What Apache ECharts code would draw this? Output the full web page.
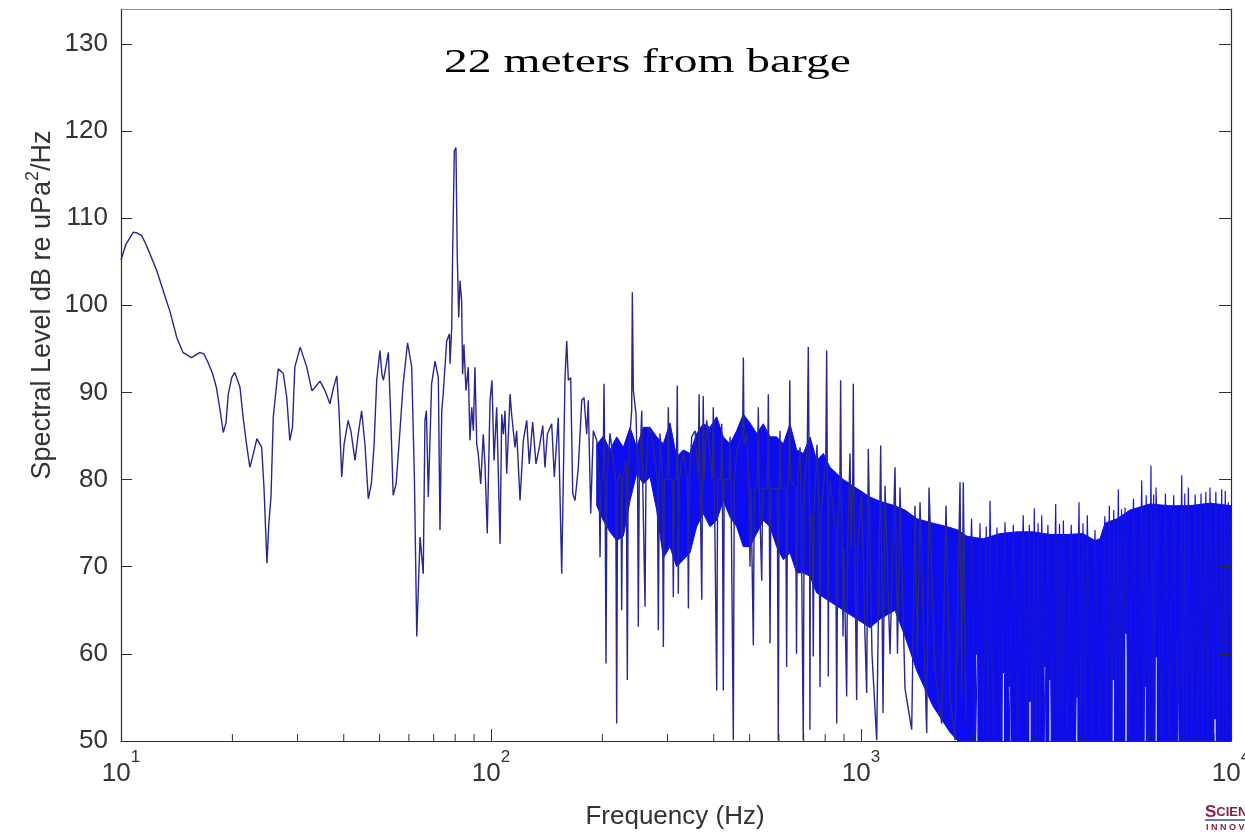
<!DOCTYPE html>
<html>
<head>
<meta charset="utf-8">
<title>22 meters from barge</title>
<script src="https://cdn.jsdelivr.net/npm/echarts@6.0.0/dist/echarts.min.js"></script>
<style>
    html, body { margin: 0; padding: 0; background: #fff; }
    #chart { width: 1245px; height: 832px; }
</style>
</head>
<body>
<div id="chart"></div>
<script>
// spectral level in dB re uPa^2/Hz, frequency in Hz

// 10 Hz .. 193 Hz: smooth start, then the 80 Hz line and its neighbours
let lowFreq = [
    10.0, 10.31, 10.8, 11.05, 11.37, 11.68, 11.97, 12.49, 13.0, 13.56,
    14.15, 14.7, 15.5, 16.35, 16.76, 17.2, 17.67, 18.1, 18.52, 18.9,
    19.22, 19.5, 19.92, 20.3, 20.97, 21.4, 21.9, 22.3, 22.8, 23.3,
    24.0, 24.35, 24.8, 25.1, 25.43, 25.8, 26.6, 27.45, 28.04, 28.6,
    29.07, 29.5, 30.5, 31.77, 32.8, 33.45, 34.5, 35.6, 36.7, 37.5,
    38.3, 38.83, 39.5, 40.07, 41.1, 41.84, 42.9, 43.7, 44.7, 45.65,
    46.6, 47.5, 48.3, 49.1, 50.1, 50.75, 51.2, 52.0, 52.8, 53.5,
    54.4, 55.4, 56.4, 57.9, 59.5, 61.05, 62.1, 63.0, 64.3, 65.6,
    66.3, 66.9, 67.7, 69.1, 70.6, 72.05, 72.8, 73.6, 74.3, 75.9,
    77.2, 77.5, 78.3, 78.8, 79.6, 80.4, 81.05, 81.8, 82.45, 83.3,
    83.8, 84.5, 85.6, 86.8, 87.7, 88.7, 89.6, 90.5, 91.5, 92.4,
    93.8, 95.3, 96.3, 97.7, 99.4, 100.6, 101.9, 103.6, 105.8, 106.9,
    108.0, 109.1, 110.3, 112.6, 113.7, 116.1, 117.3, 119.8, 122.3, 124.9,
    126.9, 129.6, 132.3, 135.1, 138.0, 139.9, 142.0, 145.9, 148.3, 152.0,
    155.3, 158.5, 160.2, 161.8, 164.2, 166.3, 168.7, 172.2, 175.9, 178.4,
    181.4, 183.2, 186.0, 189.0, 193.1
];
let lowLevel = [
    105.2, 107.0, 108.4, 108.3, 108.0, 107.0, 105.9, 104.0, 101.7, 99.3,
    96.3, 94.6, 94.0, 94.6, 94.4, 93.4, 92.2, 90.6, 88.0, 85.4,
    86.5, 89.8, 91.7, 92.3, 90.6, 87.0, 83.7, 81.4, 83.0, 84.7,
    83.7, 79.0, 70.4, 75.0, 78.0, 87.2, 92.7, 92.2, 89.5, 84.5,
    86.0, 92.9, 95.2, 92.9, 90.2, 90.6, 91.3, 90.2, 88.7, 90.5,
    91.9, 88.0, 80.3, 84.0, 86.8, 85.5, 82.2, 85.0, 87.9, 84.0,
    77.8, 79.5, 84.0, 91.4, 94.8, 92.0, 91.4, 93.0, 94.6, 88.0,
    78.2, 79.5, 84.0, 91.0, 95.7, 92.9, 80.0, 62.0, 73.4, 69.2,
    86.8, 87.9, 78.0, 91.0, 93.6, 91.7, 74.2, 87.9, 89.9, 95.9,
    96.7, 93.3, 97.4, 106.6, 117.7, 118.1, 105.9, 98.6, 102.8, 100.5,
    92.1, 95.5, 90.2, 92.9, 84.5, 88.3, 85.6, 92.9, 84.1, 82.9,
    79.5, 85.2, 81.8, 73.8, 89.1, 91.4, 82.2, 88.3, 72.6, 87.5,
    85.2, 87.9, 80.7, 89.8, 87.5, 83.7, 85.6, 77.6, 84.5, 86.8,
    81.8, 86.6, 81.8, 83.7, 86.2, 81.4, 85.2, 86.4, 80.3, 87.1,
    69.2, 91.7, 95.9, 91.4, 91.7, 78.4, 77.6, 81.4, 89.1, 89.4,
    85.2, 89.1, 76.1, 85.6, 84.5
];

// 196 Hz .. 1 kHz: spikes, each with the level where it leaves the dense core
let midFreq = [
    196.0, 197.1, 198.3, 200.8, 202.0, 203.3, 203.8, 204.6, 205.8, 209.7,
    214.0, 217.3, 218.6, 219.9, 223.2, 224.5, 225.5, 226.8, 232.0, 233.6,
    234.8, 237.6, 240.0, 241.0, 242.5, 246.6, 249.0, 250.1, 251.6, 254.4,
    255.5, 257.0, 259.6, 260.8, 262.3, 263.6, 266.2, 271.9, 281.6, 283.3,
    285.0, 286.2, 290.5, 292.3, 294.0, 299.7, 301.5, 303.3, 309.2, 311.0,
    312.8, 317.0, 318.8, 319.8, 320.8, 322.7, 331.0, 339.6, 341.6, 343.6,
    348.8, 356.1, 363.0, 365.1, 367.2, 369.5, 371.2, 372.9, 374.6, 376.8,
    382.8, 396.5, 398.9, 401.3, 405.0, 407.4, 409.8, 417.8, 420.3, 422.0,
    424.5, 427.0, 440.0, 442.6, 445.2, 449.1, 451.8, 454.5, 461.4, 478.5,
    480.9, 483.0, 491.2, 498.2, 501.2, 504.2, 508.7, 511.7, 514.8, 524.6,
    527.8, 531.0, 535.9, 539.1, 542.3, 558.4, 561.8, 564.7, 567.7, 571.1,
    594.0, 597.6, 600.8, 604.0, 607.6, 625.7, 629.5, 633.3, 639.0, 642.2,
    645.0, 665.5, 669.5, 673.5, 680.0, 684.1, 688.2, 694.0, 698.2, 702.4,
    716.0, 720.3, 724.0, 725.9, 727.8, 729.7, 739.0, 743.1, 747.0, 760.3,
    770.4, 775.0, 779.6, 803.0, 807.6, 811.0, 813.5, 816.0, 818.5, 824.6,
    854.5, 859.7, 864.9, 877.0, 881.0, 885.0, 889.5, 894.0, 898.5, 909.2,
    914.7, 920.2, 928.3, 933.9, 939.5, 950.0, 953.3, 957.0, 963.6, 969.4,
    973.4, 979.2
];
let midLevel = [
    80, 71.1, 80, 80, 91.0, 80, 80, 58.9, 80, 85.3,
    82.2, 80, 52.0, 80, 80.7, 80, 65.0, 80, 82.2, 57.0,
    80, 85.3, 88.0, 101.5, 90.2, 87.5, 80, 63.1, 80, 80,
    87.9, 80, 80, 65.4, 80, 82.2, 86.0, 85.2, 80, 62.7,
    80, 85.3, 80, 60.8, 80, 80, 88.3, 80, 80, 66.5,
    80, 80, 90.8, 80, 66.9, 80, 83.3, 80, 65.2, 80,
    84.9, 85.6, 80, 89.8, 80, 80, 66.2, 80, 89.6, 80,
    86.8, 80, 88.3, 80, 80, 55.8, 80, 80, 86.4, 80,
    55.8, 80, 80, 84.9, 80, 80, 50.1, 80, 83.3, 85.0,
    94.0, 84.0, 85.3, 79, 70.0, 79, 79, 61.0, 79, 79,
    88.3, 79, 79, 68.4, 79, 79, 89.8, 79, 61.2, 79,
    79, 50.1, 79, 85.6, 79, 79, 58.5, 79, 82.0, 91.4,
    80.0, 79, 60.0, 79, 79, 83.7, 79, 79, 50.1, 79,
    84.0, 95.2, 82.0, 76, 51.3, 76, 76, 59.7, 76, 84.0,
    76, 56.2, 76, 82.0, 94.8, 80.0, 76, 57.4, 76, 80.0,
    74, 52.0, 74, 80.0, 91.4, 78.0, 72, 62.0, 72, 72,
    55.1, 72, 72, 83.0, 72, 80.0, 91.0, 78.0, 72, 60.0,
    54.7, 72
];

// 1 kHz .. 1.9 kHz
let upperFreq = [
    1004.4, 1025.2, 1036.0, 1046.4, 1070.8, 1102.6, 1130.3, 1146.8, 1161.1, 1197.8,
    1235.6, 1255.0, 1274.7, 1315.0, 1370.9, 1399.3, 1420.0, 1443.7, 1505.2, 1526.9,
    1584.9, 1652.3, 1697.0, 1740.0, 1795.0, 1852.0, 1870.0, 1890.0, 1922.0
];
let upperLevel = [
    78.7, 62.0, 55.5, 83.5, 60.0, 50.1, 83.9, 53.2, 79.3, 60.0,
    81.4, 60.0, 79.1, 56.0, 51.3, 77.0, 60.0, 77.4, 50.9, 79.1,
    58.0, 52.0, 77.0, 55.0, 50.1, 79.7, 55.0, 79.7, 52.0
];

// spikes standing out of the solid part above ~2 kHz
let hiFreq = [
    1922, 1990, 2040, 2097, 2140, 2180, 2205, 2232, 2280, 2330,
    2390, 2450, 2520, 2580, 2650, 2745, 2800, 2850, 2900, 2940,
    2980, 3010, 3040, 3079, 3140, 3200, 3280, 3359, 3400, 3440,
    3480, 3523, 3600, 3700, 3800, 3884, 3930, 3980, 4030, 4089,
    4200, 4290, 4400, 4560, 4620, 4690, 4750, 4820, 4890, 4960,
    5010, 5060, 5110, 5170, 5300, 5450, 5600, 5737, 5820, 5900,
    5990, 6078, 6130, 6180, 6225, 6271, 6500, 6650, 6800, 7000,
    7180, 7360, 7430, 7500, 7580, 7668, 7830, 8000, 8150, 8297,
    8420, 8550, 8660, 8774, 8930, 9100, 9270, 9437, 9540, 9650,
    9740, 9833, 10000
];
let hiLevel = [
    52, 75.5, 50, 75.0, 50, 74.6, 50, 77.6, 50, 74.5,
    50, 75.1, 50, 74.8, 50, 75.9, 50, 74.8, 50, 76.7,
    50, 75.0, 50, 75.9, 50, 74.8, 50, 77.2, 50, 74.9,
    50, 75.3, 50, 74.8, 50, 77.4, 50, 75.0, 50, 75.9,
    50, 74.2, 50, 75.8, 50, 77.0, 50, 76.5, 50, 78.9,
    50, 76.6, 50, 76.8, 50, 77.8, 50, 79.9, 50, 78.2,
    50, 81.6, 50, 78.3, 50, 79.1, 50, 78.4, 50, 78.2,
    50, 80.5, 50, 78.4, 50, 79.1, 50, 78.3, 50, 78.4,
    50, 78.6, 50, 79.1, 50, 78.6, 50, 78.9, 50, 78.7,
    50, 77.4, 60
];

// dense core of the trace: upper and lower edge of the filled-looking band
let bandFreq = [
    193.1, 201.2, 209.7, 218.6, 227.9, 237.6, 247.6, 258.1, 269.0, 280.4,
    292.3, 304.6, 317.5, 331.0, 345.0, 359.6, 374.8, 390.7, 407.2, 424.5,
    442.5, 461.2, 480.8, 501.2, 522.4, 544.5, 567.6, 591.6, 616.7, 642.8,
    670.1, 698.5, 728.1, 758.9, 791.1, 824.6, 859.6, 896.0, 933.9, 973.4,
    1014.6, 1057.6, 1125.6, 1235.6, 1315, 1417, 1565, 1740, 1829, 1934,
    2137, 2376, 2640, 2917, 3242, 3604, 3981, 4290, 4426, 4565,
    4920, 5333, 6040, 6840, 7750, 8774, 10000
];
let bandTop = [
    84.0, 85.0, 83.4, 84.9, 83.7, 86.0, 83.7, 86.0, 86.0, 84.9,
    84.1, 86.5, 82.6, 83.4, 83.0, 85.3, 86.4, 86.0, 87.2, 84.9,
    84.1, 85.6, 87.5, 86.5, 85.3, 86.4, 84.9, 84.9, 84.1, 86.4,
    83.4, 83.0, 84.9, 82.2, 83.0, 81.4, 80.7, 80.0, 79.5, 79.0,
    78.5, 78.0, 77.5, 77.0, 76.5, 75.5, 75.0, 74.5, 74.2, 73.5,
    73.2, 73.8, 74.0, 74.0, 73.7, 73.7, 73.8, 73.0, 73.2, 75.0,
    75.5, 76.5, 77.2, 77.0, 77.0, 77.3, 77.0
];
let bandBottom = [
    77.0, 75.3, 74.0, 73.0, 73.5, 77.6, 80.7, 79.5, 80.3, 76.5,
    71.0, 72.3, 70.0, 70.8, 71.6, 74.6, 76.1, 74.6, 75.3, 77.6,
    75.7, 74.6, 72.3, 72.3, 73.8, 75.3, 74.6, 72.3, 70.8, 71.6,
    69.3, 69.3, 68.9, 67.0, 66.5, 66.0, 65.5, 65.0, 64.5, 64.0,
    63.5, 63.0, 64.0, 65.0, 62.0, 58.0, 54.0, 51.0, 50.0, 50.0,
    50, 50, 50, 50, 50, 50, 50, 50, 50, 50,
    50, 50, 50, 50, 50, 50, 50
];

// thin white gaps reaching up from the bottom of the solid part
let gapFreq = [2055, 2424, 2527, 2862, 3143, 3242, 3828, 4807, 5203, 5857, 6271, 7193, 9054];
let gapTop = [59.9, 57.8, 56.2, 54.5, 58.5, 57.0, 55.0, 57.0, 62.3, 56.2, 59.6, 54.3, 52.5];

// minor ticks of the log axis
let minorTicks = [20, 30, 40, 50, 60, 70, 80, 90, 200, 300, 400, 500, 600, 700, 800, 900,
    2000, 3000, 4000, 5000, 6000, 7000, 8000, 9000];

const AXIS = '#2e2e2e';
const LINE = '#27278f';
const FILL = '#0c0cef';
const SANS = 'Liberation Sans';

function pairs(xs, ys) {
    return xs.map(function (x, i) { return [x, ys[i]]; });
}

let tracePts = pairs(lowFreq, lowLevel)
    .concat(pairs(midFreq, midLevel))
    .concat(pairs(upperFreq, upperLevel));
let highPts = pairs(hiFreq, hiLevel);

let gapData = [];
for (let i = 0; i < gapFreq.length; i++) {
    gapData.push([gapFreq[i], 50], [gapFreq[i], gapTop[i]], [gapFreq[i], null]);
}

let chart = echarts.init(document.getElementById('chart'));

let option = {
    animation: false,
    backgroundColor: '#fff',
    grid: { left: 121, right: 14, top: 9, bottom: 91, outerBoundsMode: 'none', containLabel: false },
    xAxis: [{
        type: 'log', logBase: 10, min: 10, max: 10000, position: 'bottom', z: 10,
        axisLine: { lineStyle: { color: AXIS, width: 1.2 } },
        axisTick: { inside: true, length: 12, lineStyle: { color: AXIS } },
        splitLine: { show: false },
        axisLabel: {
            margin: 8, showMinLabel: true, showMaxLabel: true, hideOverlap: false,
            formatter: function (v) {
                return '{b|10}{s|' + Math.round(Math.log10(v)) + '}';
            },
            rich: {
                b: { fontFamily: SANS, fontSize: 26, color: '#333', lineHeight: 26, padding: [24, 0, 0, 0] },
                s: { fontFamily: SANS, fontSize: 17, color: '#333', lineHeight: 17, verticalAlign: 'top' }
            }
        }
    }, {
        type: 'log', logBase: 10, min: 10, max: 10000, position: 'top', z: 10,
        axisLine: { lineStyle: { color: '#959595', width: 1.2 } },
        axisTick: { show: false },
        axisLabel: { show: false },
        splitLine: { show: false }
    }],
    yAxis: [{
        type: 'value', min: 50, max: 134, interval: 10, position: 'left', z: 10,
        axisLine: { show: true, lineStyle: { color: AXIS, width: 1.2 } },
        axisTick: { inside: true, length: 11, lineStyle: { color: AXIS } },
        splitLine: { show: false },
        axisLabel: {
            margin: 13, showMaxLabel: false,
            fontFamily: SANS, fontSize: 26, color: '#333',
            formatter: function (v) { return v % 10 === 0 ? String(v) : ''; }
        }
    }, {
        type: 'value', min: 50, max: 134, interval: 10, position: 'right', z: 10,
        axisLine: { show: true, lineStyle: { color: AXIS, width: 1.2 } },
        axisTick: { inside: true, length: 12, lineStyle: { color: AXIS } },
        splitLine: { show: false },
        axisLabel: { show: false }
    }],
    series: [{
        // dense part: polygon between upper and lower edge, through the axes
        name: 'band', type: 'custom', z: 2, silent: true,
        data: [[bandFreq[0], bandTop[0]]],
        renderItem: function (params, api) {
            let pts = [];
            for (let i = 0; i < bandFreq.length; i++) {
                pts.push(api.coord([bandFreq[i], bandTop[i]]));
            }
            for (let i = bandFreq.length - 1; i >= 0; i--) {
                pts.push(api.coord([bandFreq[i], bandBottom[i]]));
            }
            return {
                type: 'polygon',
                shape: { points: pts },
                style: { fill: FILL, stroke: FILL, lineWidth: 1 }
            };
        }
    }, {
        name: 'gaps', type: 'line', z: 3, silent: true, connectNulls: false,
        symbol: 'none', data: gapData,
        lineStyle: { color: '#ffffff', width: 1.2 }
    }, {
        name: 'trace', type: 'line', z: 4, silent: true,
        symbol: 'none', data: tracePts,
        lineStyle: { color: LINE, width: 1.4 }
    }, {
        name: 'trace high', type: 'line', z: 4, silent: true,
        symbol: 'none', data: highPts,
        lineStyle: { color: '#1616d2', width: 1.2 }
    }, {
        name: 'minor ticks', type: 'custom', z: 12, silent: true,
        data: minorTicks.map(function (f) { return [f, 50]; }),
        renderItem: function (params, api) {
            let p = api.coord([api.value(0), 50]);
            return {
                type: 'line',
                shape: { x1: p[0], y1: p[1], x2: p[0], y2: p[1] - 7 },
                style: { stroke: AXIS, lineWidth: 1 }
            };
        }
    }],
    graphic: [{
        type: 'text', x: 647.5, y: 63, scaleX: 1.44,
        style: {
            text: '22 meters from barge', fontFamily: 'Liberation Serif', fontSize: 33,
            fill: '#000', align: 'center', verticalAlign: 'middle'
        }
    }, {
        type: 'text', x: 38, y: 305, rotation: Math.PI / 2,
        style: {
            text: '{n|Spectral Level dB re uPa}{s|2}{n|/Hz}',
            align: 'center', verticalAlign: 'middle',
            rich: {
                n: { fontFamily: SANS, fontSize: 27, fill: '#333', lineHeight: 27, padding: [10, 0, 0, 0] },
                s: { fontFamily: SANS, fontSize: 18, fill: '#333', lineHeight: 18, verticalAlign: 'top' }
            }
        }
    }, {
        type: 'text', x: 675, y: 817,
        style: {
            text: 'Frequency (Hz)', fontFamily: SANS, fontSize: 26, fill: '#333',
            align: 'center', verticalAlign: 'middle'
        }
    }, {
        type: 'text', x: 1205, y: 812,
        style: {
            text: '{a|S}{b|CIENCE}', align: 'left', verticalAlign: 'middle',
            rich: {
                a: { fontFamily: SANS, fontWeight: 'bold', fontSize: 17, fill: '#8c1d3d' },
                b: { fontFamily: SANS, fontWeight: 'bold', fontSize: 13, fill: '#8c1d3d' }
            }
        }
    }, {
        type: 'line', shape: { x1: 1205, y1: 820, x2: 1245, y2: 820 },
        style: { stroke: '#2c4f9e', lineWidth: 1.5 }
    }, {
        type: 'text', x: 1206, y: 828,
        style: {
            text: 'I N N O V A T I O N', fontFamily: SANS, fontWeight: 'bold', fontSize: 9,
            fill: '#8c1d3d', align: 'left', verticalAlign: 'middle'
        }
    }]
};

chart.setOption(option);
</script>
</body>
</html>
